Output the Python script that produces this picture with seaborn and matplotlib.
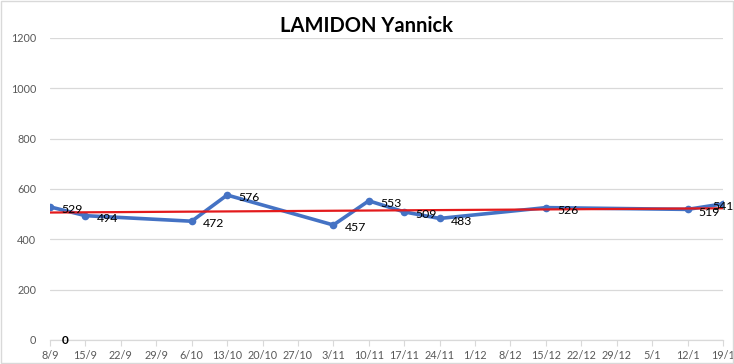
import matplotlib
matplotlib.use("Agg")
import matplotlib.pyplot as plt
import seaborn as sns
import numpy as np
import pandas as pd

# Data
point_dates = ["2019-09-08", "2019-09-15", "2019-10-06", "2019-10-13", "2019-11-03",
               "2019-11-10", "2019-11-17", "2019-11-24", "2019-12-15", "2020-01-12", "2020-01-19"]
values = [529, 494, 472, 576, 457, 553, 509, 483, 526, 519, 541]
tick_labels = ["8/9", "15/9", "22/9", "29/9", "6/10", "13/10", "20/10", "27/10", "3/11", "10/11",
               "17/11", "24/11", "1/12", "8/12", "15/12", "22/12", "29/12", "5/1", "12/1", "19/1"]
title = "LAMIDON Yannick"
y_ticks = [0, 200, 400, 600, 800, 1000, 1200]

dates = pd.to_datetime(point_dates)
days = (dates - dates[0]).days.to_numpy()
df = pd.DataFrame({"day": days, "value": values})

sns.set_style("white")
plt.rcParams["font.family"] = ["Lato", "DejaVu Sans"]

fig = plt.figure(figsize=(7.34, 3.64), dpi=100)
ax = fig.add_axes([50/734, 1 - 340/364, (723 - 50)/734, (340 - 38)/364])

sns.lineplot(data=df, x="day", y="value", ax=ax, color="#4472C4", linewidth=2.6,
             marker="o", markersize=5.5, markeredgewidth=0, zorder=3)

# Linear trend line
coef = np.polyfit(days, values, 1)
tx = np.array([days[0], days[-1]])
ax.plot(tx, np.polyval(coef, tx), color="#E31A1C", linewidth=1.6, zorder=4)

n = len(values)
for i, (d, v) in enumerate(zip(days, values)):
    dx = 8 if i < n - 1 else -8
    ax.annotate(str(v), (d, v), xytext=(dx, -2), textcoords="offset points",
                ha="left", va="center", fontsize=8.8, color="#000000", zorder=5,
                annotation_clip=False)

ax.set_xlim(0, 133)
ax.set_ylim(0, 1200)
ax.set_yticks(y_ticks)
ax.set_yticklabels([str(t) for t in y_ticks])
ax.set_xticks(np.arange(len(tick_labels)) * 7)
ax.set_xticklabels(tick_labels)
ax.set_xlabel("")
ax.set_ylabel("")
ax.grid(axis="y", color="#D9D9D9", linewidth=0.9)
ax.set_axisbelow(True)
for s in ["top", "right", "left"]:
    ax.spines[s].set_visible(False)
ax.spines["bottom"].set_color("#D9D9D9")
ax.spines["bottom"].set_linewidth(0.9)
ax.tick_params(axis="x", which="major", direction="out", length=4, width=0.8,
               color="#D9D9D9", labelsize=7.8, labelcolor="#595959", pad=3, bottom=True)
ax.tick_params(axis="y", length=0, labelsize=7.8, labelcolor="#595959", pad=10)

fig.text(0.5, 1 - 26/364, title, ha="center", va="center", fontsize=14.5,
         fontweight="bold", color="#000000")
fig.text(65/734, 1 - 341/364, "0", ha="center", va="center", fontsize=8.5,
         fontweight="bold", color="#000000")

# outer border
fig.patches.append(plt.Rectangle((0.001, 0.002), 0.997, 0.995, transform=fig.transFigure,
                                 fill=False, edgecolor="#D9D9D9", linewidth=1))

fig.savefig("out.png", dpi=100)
